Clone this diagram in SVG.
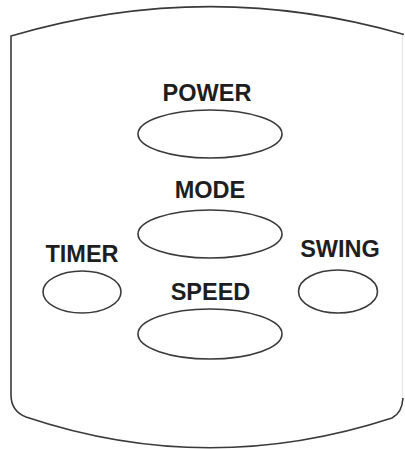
<svg xmlns="http://www.w3.org/2000/svg" width="405" height="449" viewBox="0 0 405 449">
<style>
.o{fill:none;stroke:#3a3a3a;stroke-width:1.6}
.f{fill:none;stroke:#e6e6e6;stroke-width:1.2}
.b{fill:#fff;stroke:#3a3a3a;stroke-width:1.6}
.t{font-family:"Liberation Sans",Arial,sans-serif;font-weight:bold;font-size:23.5px;fill:#1e1e1e;text-anchor:middle}
</style>
<rect width="405" height="449" fill="#fff"/>
<g id="panel">
<line class="f" x1="402.5" y1="35" x2="402.5" y2="400"/>
<path class="o" d="M 404 34.5 Q 208 -22 11 36 L 11 395 Q 11 411 26 417 Q 208 478 392 418 Q 402 413 403 398"/>
</g>
<g id="power">
<text class="t" x="207" y="101">POWER</text>
<ellipse class="b" cx="210" cy="134" rx="72" ry="24"/>
</g>
<g id="mode">
<text class="t" x="210" y="198">MODE</text>
<ellipse class="b" cx="210" cy="234" rx="72" ry="24"/>
</g>
<g id="timer">
<text class="t" x="82" y="262">TIMER</text>
<ellipse class="b" cx="82" cy="292" rx="39" ry="21"/>
</g>
<g id="swing">
<text class="t" x="340" y="257">SWING</text>
<ellipse class="b" cx="338" cy="291.5" rx="39.5" ry="21.5"/>
</g>
<g id="speed">
<text class="t" x="210.5" y="300">SPEED</text>
<ellipse class="b" cx="210" cy="334" rx="72" ry="25"/>
</g>
<g id="connectors"/>
</svg>
